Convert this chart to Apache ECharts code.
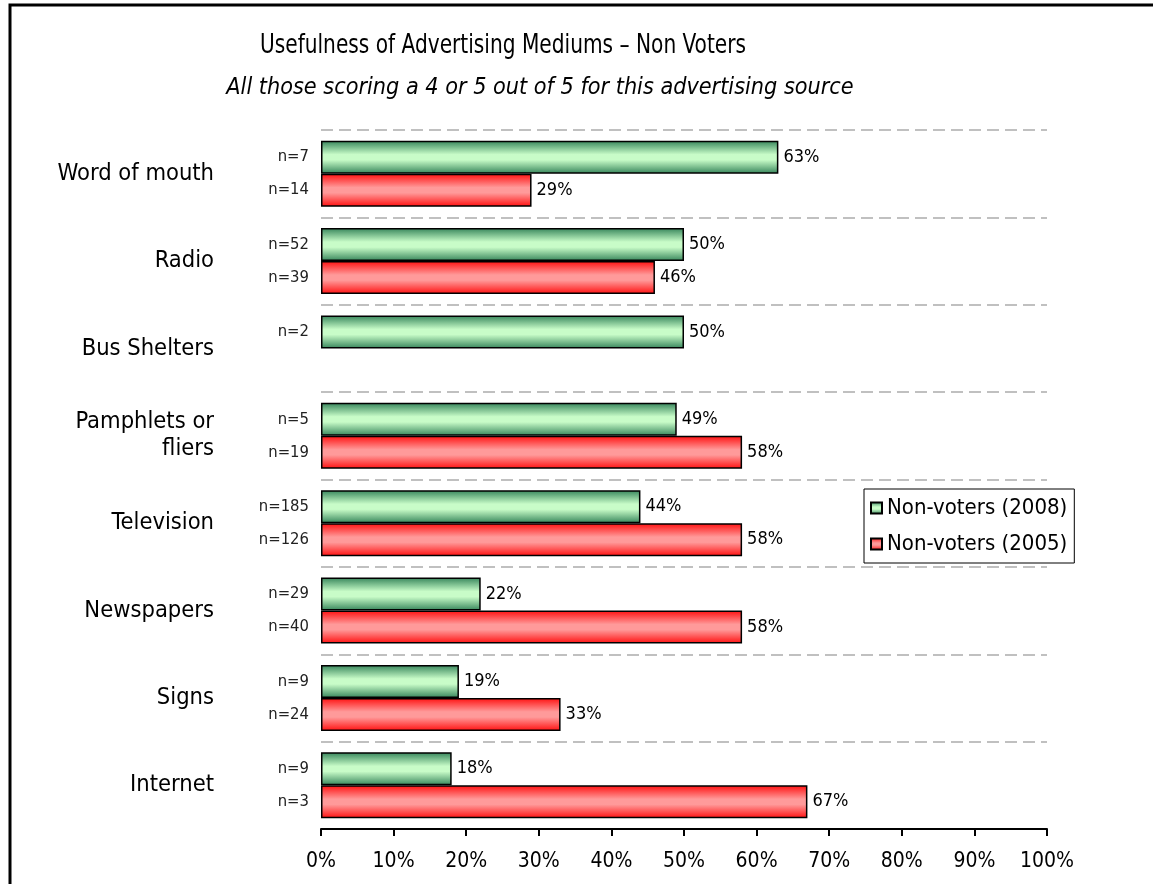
<!DOCTYPE html>
<html>
<head>
<meta charset="utf-8">
<style>
  html, body { margin: 0; padding: 0; background: #fff; }
  #chart { width: 1153px; height: 884px; }
</style>
<script src="https://cdn.jsdelivr.net/npm/echarts@6/dist/echarts.min.js"></script>
</head>
<body>
<div id="chart"></div>
<script>
// Advertising mediums and survey results
const categories = ['Word of mouth', 'Radio', 'Bus Shelters', 'Pamphlets or\nfliers', 'Television', 'Newspapers', 'Signs', 'Internet'];
const values2008 = [63, 50, 50, 49, 44, 22, 19, 18];
const values2005 = [29, 46, null, 58, 58, 58, 33, 67];
const n2008 = [7, 52, 2, 5, 185, 29, 9, 9];
const n2005 = [14, 39, null, 19, 126, 40, 24, 3];
const seriesNames = ['Non-voters (2008)', 'Non-voters (2005)'];

const FONT = '"DejaVu Sans Condensed", "DejaVu Sans", sans-serif';

function band(edge, mid) {
  return new echarts.graphic.LinearGradient(0, 0, 0, 1, [
    { offset: 0, color: edge },
    { offset: 0.42, color: mid },
    { offset: 0.58, color: mid },
    { offset: 1, color: edge }
  ]);
}
const greenFill = band('#35845a', '#c8fcc8');
const redFill = band('#ff0f0f', '#ff9a9a');

const chart = echarts.init(document.getElementById('chart'), null, { renderer: 'canvas' });

const barCommon = {
  type: 'bar',
  barWidth: 33,
  barGap: '0%',
  barCategoryGap: '0%'
};

function valueSeries(name, data, fill) {
  return Object.assign({}, barCommon, {
    name: name,
    xAxisIndex: 0,
    yAxisIndex: 0,
    data: data,
    itemStyle: { color: fill, borderColor: '#000', borderWidth: 1.5 },
    label: {
      show: true,
      position: 'right',
      distance: 5,
      formatter: p => p.value + '%',
      fontFamily: FONT,
      fontSize: 18,
      color: '#000'
    }
  });
}

// transparent twin bars that carry the sample-size labels on the left
function sampleSeries(values, counts) {
  return Object.assign({}, barCommon, {
    xAxisIndex: 1,
    yAxisIndex: 1,
    silent: true,
    legendHoverLink: false,
    data: values,
    itemStyle: { color: 'rgba(0,0,0,0)' },
    label: {
      show: true,
      position: [-12, '50%'],
      align: 'right',
      verticalAlign: 'middle',
      formatter: p => counts[p.dataIndex] == null ? '' : 'n=' + counts[p.dataIndex],
      fontFamily: FONT,
      fontSize: 16.5,
      color: '#222'
    }
  });
}

const option = {
  animation: false,
  backgroundColor: '#fff',
  graphic: [
    {
      type: 'rect',
      shape: { x: 10, y: 5, width: 1300, height: 1000 },
      style: { fill: 'none', stroke: '#000', lineWidth: 3 },
      silent: true
    },
    {
      type: 'text',
      x: 503, y: 46,
      scaleX: 0.83,
      style: {
        text: 'Usefulness of Advertising Mediums – Non Voters',
        font: '27px ' + FONT,
        fill: '#000',
        textAlign: 'center',
        textVerticalAlign: 'middle'
      }
    },
    {
      type: 'text',
      x: 540, y: 88,
      style: {
        text: 'All those scoring a 4 or 5 out of 5 for this advertising source',
        font: 'italic 23.2px ' + FONT,
        fill: '#000',
        textAlign: 'center',
        textVerticalAlign: 'middle'
      }
    }
  ],
  legend: {
    orient: 'vertical',
    left: 864,
    top: 489,
    data: seriesNames,
    icon: 'rect',
    itemWidth: 11,
    itemHeight: 11,
    itemGap: 14,
    padding: [8, 7, 8, 6],
    borderColor: '#000',
    borderWidth: 1,
    backgroundColor: '#fff',
    textStyle: { fontFamily: FONT, fontSize: 22, color: '#000' },
    selectedMode: false
  },
  grid: { left: 321, right: 106, top: 130, bottom: 55, containLabel: false },
  xAxis: [
    {
      type: 'value',
      min: 0,
      max: 100,
      interval: 10,
      axisLine: { show: true, lineStyle: { color: '#000', width: 2 } },
      axisTick: { show: true, length: 7, lineStyle: { color: '#000', width: 2 } },
      splitLine: { show: false },
      axisLabel: {
        margin: 22,
        formatter: v => v + '%',
        fontFamily: FONT,
        fontSize: 21,
        color: '#000'
      }
    },
    { type: 'value', min: 0, max: 100, show: false }
  ],
  yAxis: [
    {
      type: 'category',
      data: categories,
      inverse: true,
      axisLine: { show: false },
      axisTick: { show: false },
      splitLine: { show: true, lineStyle: { color: '#c0c0c0', width: 2, type: [12, 6] } },
      axisLabel: {
        margin: 107,
        align: 'right',
        fontFamily: FONT,
        fontSize: 23.5,
        lineHeight: 27,
        color: '#000'
      }
    },
    { type: 'category', data: categories, inverse: true, show: false }
  ],
  series: [
    valueSeries(seriesNames[0], values2008, greenFill),
    valueSeries(seriesNames[1], values2005, redFill),
    sampleSeries(values2008, n2008),
    sampleSeries(values2005, n2005)
  ]
};

chart.setOption(option);
</script>
</body>
</html>
